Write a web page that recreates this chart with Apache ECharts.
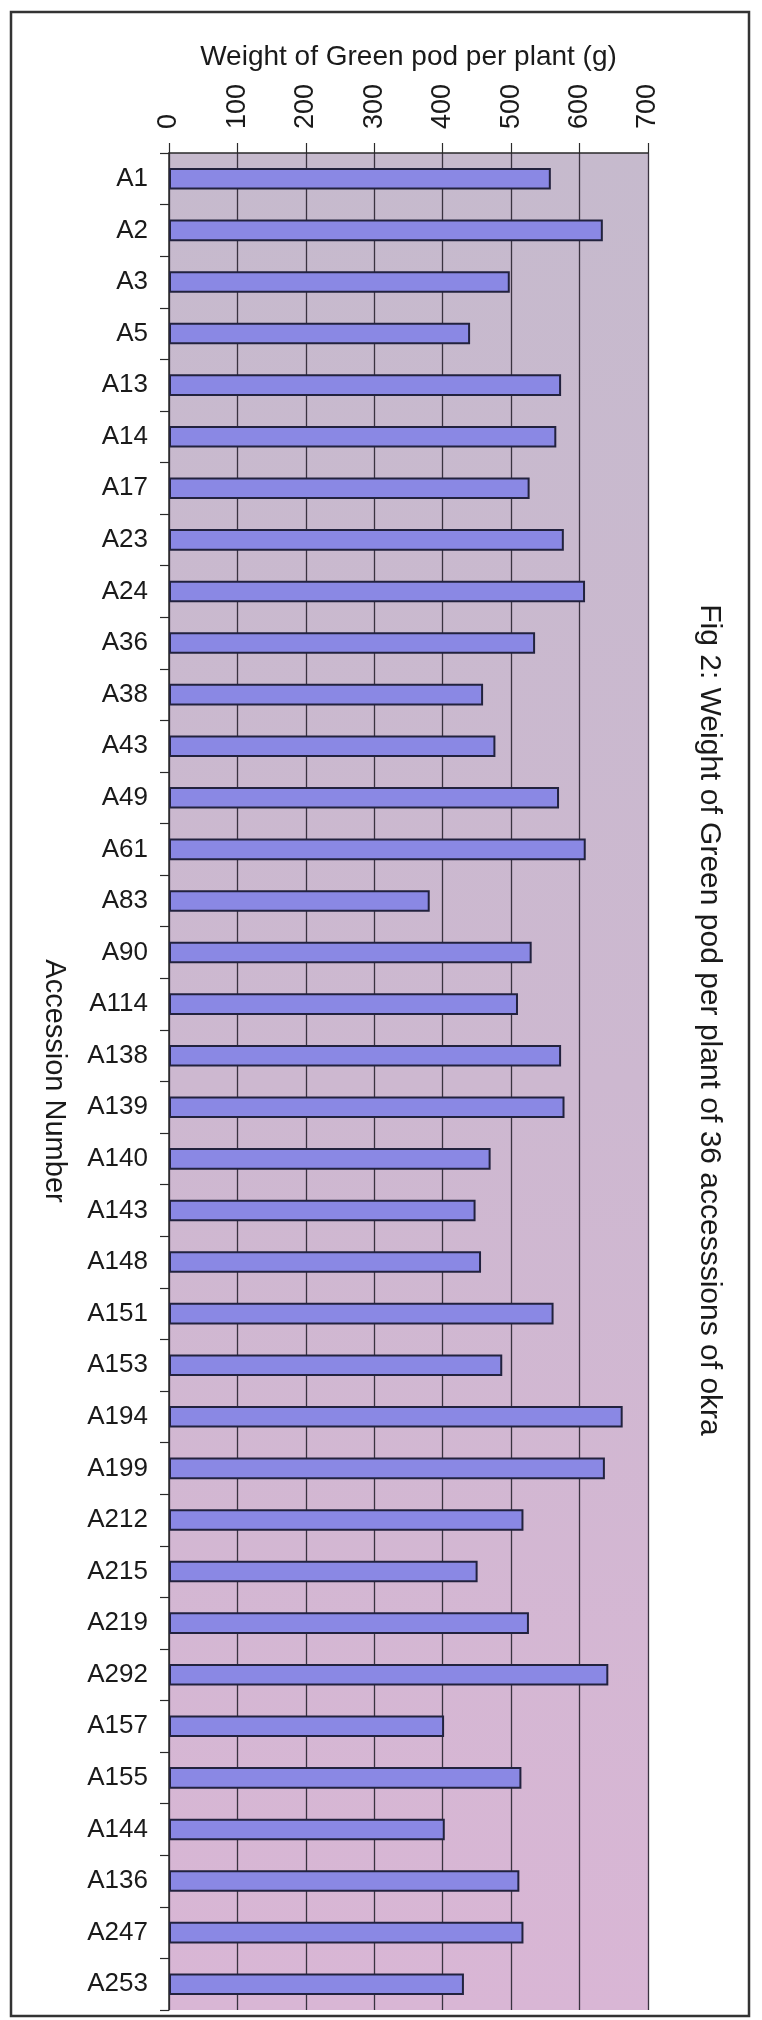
<!DOCTYPE html>
<html>
<head>
<meta charset="utf-8">
<script src="https://cdn.jsdelivr.net/npm/echarts@6/dist/echarts.min.js"></script>
<style>
  html, body { margin: 0; padding: 0; background: #ffffff; }
  #chart { width: 762px; height: 2020px; }
</style>
</head>
<body>
<div id="chart"></div>
<script>
const accessions = ['A1','A2','A3','A5','A13','A14','A17','A23','A24','A36','A38','A43','A49','A61','A83','A90','A114','A138','A139','A140','A143','A148','A151','A153','A194','A199','A212','A215','A219','A292','A157','A155','A144','A136','A247','A253'];
const podWeight = [558,634,498,440,573,566,527,577,608,535,459,477,570,609,381,530,510,573,578,470,448,456,562,487,663,637,518,451,526,642,402,515,403,512,518,431];
const xTicks = [0,100,200,300,400,500,600,700];
const xTitle = 'Weight of Green pod per plant (g)';
const yTitle = 'Accession Number';
const caption = 'Fig 2: Weight of Green pod per plant of 36 accesssions of okra';

const FONT = '"Liberation Sans", Arial, Helvetica, sans-serif';
const chart = echarts.init(document.getElementById('chart'), null, { renderer: 'canvas' });

chart.setOption({
  animation: false,
  backgroundColor: '#ffffff',
  grid: {
    left: 169, right: 114, top: 153, bottom: 10,
    show: true,
    borderWidth: 0,
    backgroundColor: new echarts.graphic.LinearGradient(0, 0, 0, 1, [
      { offset: 0, color: '#c6bacd' },
      { offset: 0.5, color: '#cdb8d0' },
      { offset: 1, color: '#d9b6d5' }
    ])
  },
  xAxis: {
    type: 'value',
    position: 'top',
    min: xTicks[0],
    max: xTicks[xTicks.length - 1],
    interval: xTicks[1] - xTicks[0],
    name: xTitle,
    nameLocation: 'middle',
    nameGap: 82,
    nameTextStyle: { fontFamily: FONT, fontSize: 28, color: '#1a1a1a' },
    axisLine: { show: true, lineStyle: { color: '#2a2a2a', width: 1.5 } },
    axisTick: { show: true, length: 10, lineStyle: { color: '#2a2a2a', width: 1.2 } },
    axisLabel: { rotate: -90, margin: 24, fontFamily: FONT, fontSize: 27, color: '#1a1a1a' },
    splitLine: { show: true, lineStyle: { color: '#3a3340', width: 1.3 } }
  },
  yAxis: {
    type: 'category',
    data: accessions,
    inverse: true,
    axisLine: { show: true, lineStyle: { color: '#2a2a2a', width: 1.5 } },
    axisTick: { show: true, length: 9, lineStyle: { color: '#2a2a2a', width: 1.2 } },
    axisLabel: { margin: 21, fontFamily: FONT, fontSize: 26, color: '#1a1a1a' },
    splitLine: { show: false }
  },
  series: [{
    type: 'bar',
    data: podWeight,
    barWidth: '42%',
    itemStyle: { color: '#8a88e4', borderColor: '#22223e', borderWidth: 2 }
  }],
  graphic: [
    {
      type: 'rect', z: -1,
      shape: { x: 11, y: 12, width: 738, height: 2004 },
      style: { fill: null, stroke: '#333333', lineWidth: 2.5 }
    },
    {
      type: 'text',
      x: 54, y: 1081,
      rotation: -Math.PI / 2,
      style: {
        text: yTitle,
        font: '29px ' + FONT,
        fill: '#1a1a1a',
        align: 'center',
        verticalAlign: 'middle'
      }
    },
    {
      type: 'text',
      x: 709, y: 1020,
      rotation: -Math.PI / 2,
      style: {
        text: caption,
        font: '30px ' + FONT,
        fill: '#1a1a1a',
        align: 'center',
        verticalAlign: 'middle'
      }
    }
  ]
});
</script>
</body>
</html>
